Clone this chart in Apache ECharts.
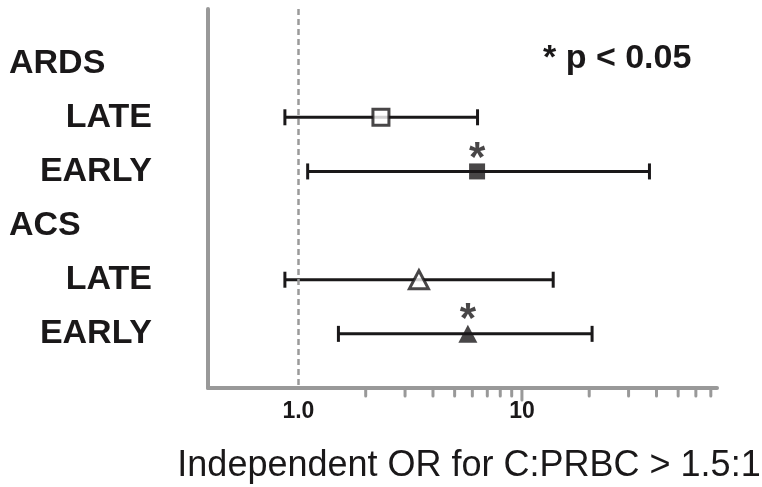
<!DOCTYPE html>
<html>
<head>
<meta charset="utf-8">
<script src="https://cdn.jsdelivr.net/npm/echarts@6/dist/echarts.min.js"></script>
<style>
  html, body { margin: 0; padding: 0; background: #fff; }
  #chart { width: 762px; height: 487px; }
</style>
</head>
<body>
<div id="chart"></div>
<script>
// rows on the y axis (0 and 7 are empty padding slots)
const rowLabels = ["", "ARDS", "LATE", "EARLY", "ACS", "LATE", "EARLY", ""];
const headerRows = [1, 4];

// one entry per estimate
const estRows = [2, 3, 5, 6];
const outcome = ["ARDS", "ARDS", "ACS", "ACS"];
const timing = ["LATE", "EARLY", "LATE", "EARLY"];
const oddsRatio = [2.34, 6.3, 3.46, 5.73];
const ciLow = [0.87, 1.1, 0.87, 1.51];
const ciHigh = [6.33, 37.2, 13.8, 20.6];
const significant = [false, true, false, true];

// x axis
const xMin = 0.394;
const xMax = 74.6;
const majorTicks = [10];
const minorTicks = [2, 3, 4, 5, 6, 7, 8, 9, 20, 30, 40, 50, 60, 70];
const refValue = 1;

const ink = "#1a1819";
const axisGray = "#999999";
const font = "Liberation Sans, Arial, sans-serif";

const chart = echarts.init(document.getElementById("chart"));

const markerData = estRows.map((row, i) => {
  const filled = timing[i] === "EARLY";
  const isTri = outcome[i] === "ACS";
  return {
    value: [oddsRatio[i], row],
    symbol: isTri ? "triangle" : "rect",
    symbolSize: isTri ? [19, 18] : [16, 16],
    itemStyle: {
      color: filled ? ink : "#fff",
      borderColor: ink,
      borderWidth: filled ? 0 : 3,
    },
    label: {
      show: significant[i],
      formatter: "*",
      position: "top",
      distance: 0,
      offset: [0, 17],
      fontSize: 42,
      fontWeight: "bold",
      fontFamily: font,
      color: ink,
    },
  };
});

const option = {
  animation: false,
  grid: { left: 208, right: 45, top: 9, bottom: 99, outerBoundsMode: "none" },
  xAxis: {
    type: "log",
    logBase: 10,
    min: xMin,
    max: xMax,
    axisLine: { onZero: false, lineStyle: { color: axisGray, width: 4 } },
    axisTick: { show: false },
    splitLine: { show: false },
    axisLabel: {
      margin: 12,
      fontSize: 23,
      fontWeight: "bold",
      fontFamily: font,
      color: ink,
      showMinLabel: false,
      showMaxLabel: false,
      formatter: (v) => (Math.abs(v - 1) < 1e-6 ? "1.0" : Math.abs(v - 10) < 1e-6 ? "10" : ""),
    },
    name: "Independent OR for C:PRBC > 1.5:1",
    nameLocation: "middle",
    nameGap: 60,
    nameTextStyle: {
      fontSize: 36,
      fontFamily: font,
      color: ink,
      padding: [0, 0, 0, 13],
    },
  },
  yAxis: {
    type: "value",
    inverse: true,
    min: 0,
    max: 7,
    interval: 1,
    axisLine: { show: true, onZero: false, lineStyle: { color: axisGray, width: 4 } },
    axisTick: { show: false },
    splitLine: { show: false },
    axisLabel: {
      margin: 56,
      formatter: (v) => {
        const t = rowLabels[v] || "";
        if (!t) return "";
        return headerRows.includes(v) ? `{hdr|${t}}` : `{sub|${t}}`;
      },
      rich: {
        hdr: { width: 143, align: "left", fontSize: 34, fontWeight: "bold", fontFamily: font, color: ink },
        sub: { fontSize: 34, fontWeight: "bold", fontFamily: font, color: ink },
      },
    },
  },
  graphic: [
    {
      type: "text",
      left: 543,
      top: 42,
      style: {
        text: "* p < 0.05",
        fontSize: 34,
        fontWeight: "bold",
        fontFamily: font,
        fill: ink,
      },
    },
  ],
  series: [
    {
      // whiskers with end caps
      type: "custom",
      data: estRows.map((row, i) => [ciLow[i], ciHigh[i], row]),
      encode: { x: [0, 1], y: 2 },
      renderItem: (params, api) => {
        const a = api.coord([api.value(0), api.value(2)]);
        const b = api.coord([api.value(1), api.value(2)]);
        const st = { stroke: ink, lineWidth: 3 };
        return {
          type: "group",
          children: [
            { type: "line", shape: { x1: a[0], y1: a[1], x2: b[0], y2: b[1] }, style: st },
            { type: "line", shape: { x1: a[0], y1: a[1] - 8, x2: a[0], y2: a[1] + 8 }, style: st },
            { type: "line", shape: { x1: b[0], y1: b[1] - 8, x2: b[0], y2: b[1] + 8 }, style: st },
          ],
        };
      },
      markLine: {
        silent: true,
        symbol: "none",
        label: { show: false },
        lineStyle: { color: "#9a9a9a", type: [6, 4], width: 2.5 },
        data: [{ xAxis: refValue }],
      },
      z: 2,
    },
    {
      type: "scatter",
      data: markerData,
      z: 3,
    },
    {
      // log-scale ticks below the x axis
      type: "custom",
      data: majorTicks.map((v) => [v, 7, 12]).concat(minorTicks.map((v) => [v, 7, 8])),
      encode: { x: 0, y: 1 },
      clip: false,
      silent: true,
      renderItem: (params, api) => {
        const p = api.coord([api.value(0), api.value(1)]);
        return {
          type: "line",
          shape: { x1: p[0], y1: p[1] + 2, x2: p[0], y2: p[1] + api.value(2) },
          style: { stroke: axisGray, lineWidth: 3, lineCap: "round" },
        };
      },
      z: 1,
    },
  ],
};

chart.setOption(option);
</script>
</body>
</html>
